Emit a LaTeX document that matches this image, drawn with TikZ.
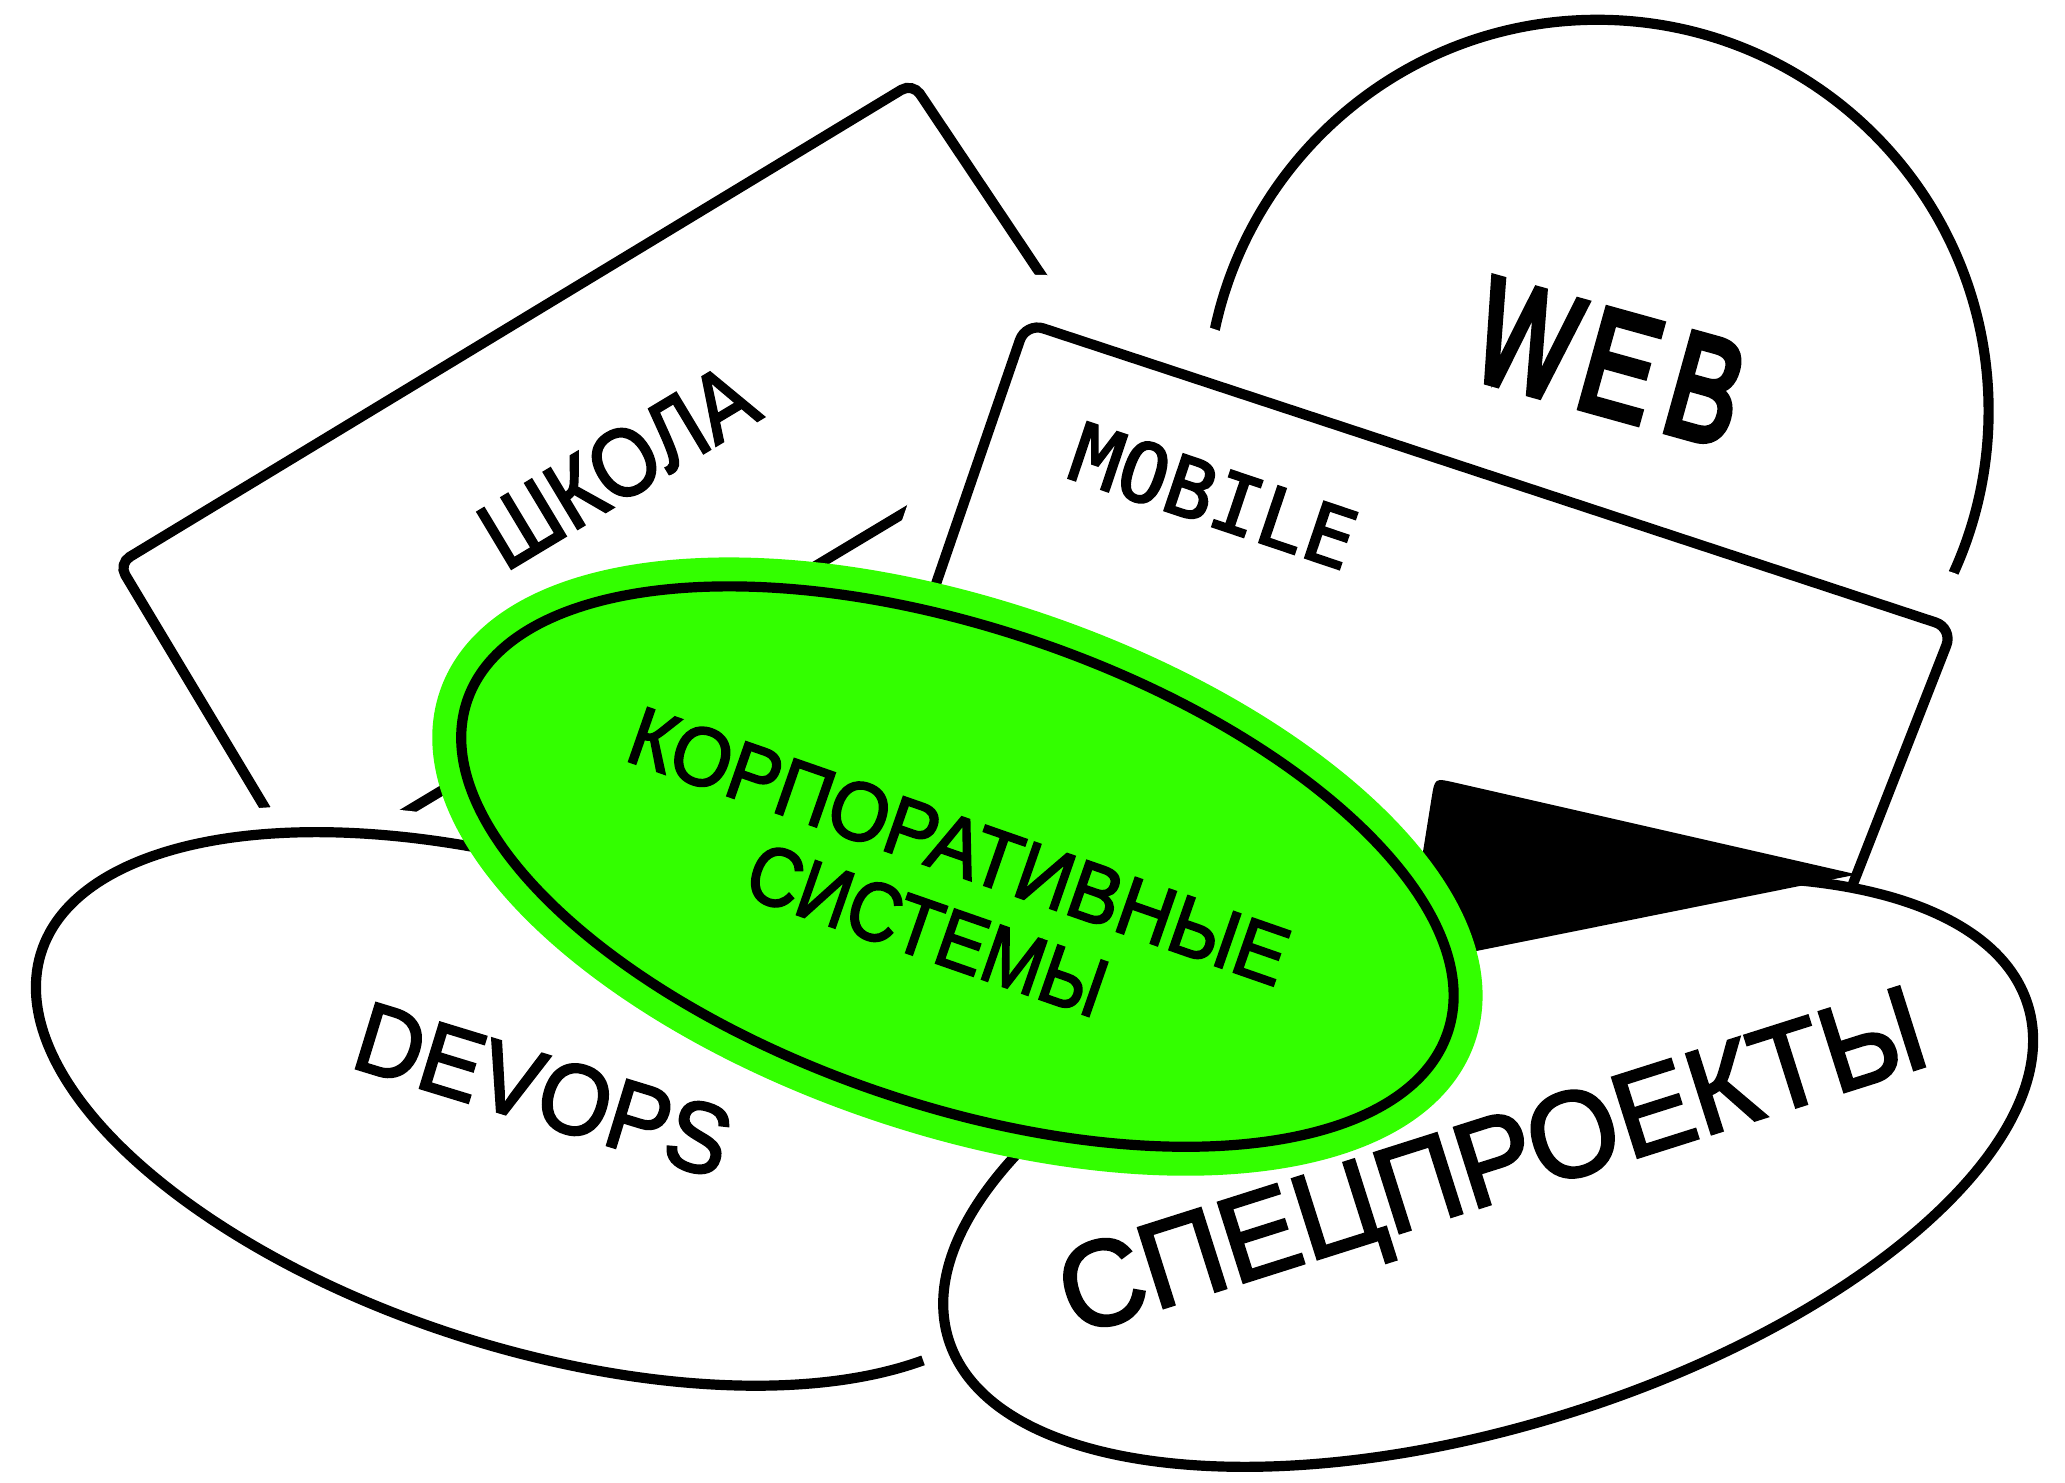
\documentclass[tikz,border=0pt]{standalone}
\usepackage{fontspec}
\usepackage{graphicx}
\setmainfont{Liberation Sans}
\newfontfamily\lblfont{Liberation Sans}[FakeBold=2.5]
\newfontfamily\webfont{Liberation Sans}[FakeBold=5]
\newfontfamily\monofont{DejaVu Sans Mono}[FakeBold=2.5]
\definecolor{corpgreen}{RGB}{51,255,0}
\begin{document}
\begin{tikzpicture}[x=0.01cm, y=0.01cm,
  edge/.style={draw=black, line width=2.2pt},
  lbl/.style={inner sep=0pt, anchor=base, font=\lblfont}]
\useasboundingbox (0,0) rectangle (1568,-1126);

% ШКОЛА card
\draw[edge, fill=white, rounded corners=0.1cm] (693,-63) -- (90,-428) -- (231,-663) -- (847,-293) -- cycle;

% WEB circle
\draw[edge, fill=white] (1213,-312) circle [radius=297];

% MOBILE card with white halo
\path[draw=white, line width=22.8pt, fill=white, rounded corners=0.14cm] (779,-245) -- (1483,-477) -- (1384,-730) -- (674,-550) -- cycle;
\draw[edge, rounded corners=0.14cm] (779,-245) -- (1483,-477) -- (1384,-730) -- (674,-550) -- cycle;

% DEVOPS ellipse
\begin{scope}[shift={(407,-842)}, rotate=-17.5]
\path[draw=white, line width=11.4pt, fill=white] (0,0) ellipse [x radius=394, y radius=182];
\draw[edge] (-31:394 and 182) arc [start angle=-31, end angle=-280, x radius=394, y radius=182];
\end{scope}

% СПЕЦПРОЕКТЫ ellipse
\begin{scope}[shift={(1130,-890)}, rotate=17.2]
\draw[edge, fill=white] (0,0) ellipse [x radius=429, y radius=193];
\end{scope}

% black wedge
\fill[black] (1072,-700) -- (1087.1,-605.6) .. controls (1089.5,-590.8) .. (1104.1,-594.1) -- (1410,-664) -- (1040,-738.4) -- cycle;

% green ellipse
\begin{scope}[shift={(727,-658)}, rotate=-18.7]
\draw[draw=corpgreen, line width=12.5pt, fill=corpgreen] (0,0) ellipse [x radius=393, y radius=181];
\draw[edge] (0,0) ellipse [x radius=393, y radius=181];
\end{scope}

% labels
\node[lbl, rotate=31] (shkola) at (482,-375.5) {\fontsize{20.7pt}{20.7pt}\selectfont\scalebox{0.88}[1]{ШКОЛА}};
\node[lbl, rotate=-15.5, font=\webfont] (web) at (1212,-312.6) {\fontsize{32pt}{32pt}\selectfont\scalebox{0.7}[1]{W}\kern2.5pt\scalebox{0.74}[1]{E}\kern3.5pt\scalebox{0.72}[1]{B}};
\node[lbl, rotate=-18.6, font=\monofont] (mobile) at (914.7,-397.9) {\fontsize{17.6pt}{17.6pt}\selectfont MOBILE};
\node[lbl, rotate=-19.2] (korp1) at (721,-663) {\fontsize{17.9pt}{17.9pt}\selectfont\scalebox{0.93}[1]{КОРПОРАТИВНЫЕ}};
\node[lbl, rotate=-19.2] (korp2) at (697,-726.5) {\fontsize{17.9pt}{17.9pt}\selectfont\scalebox{0.88}[1]{СИСТЕМЫ}};
\node[lbl, rotate=-17] (devops) at (405,-852.5) {\fontsize{21.5pt}{21.5pt}\selectfont\scalebox{0.93}[1]{DEVOPS}};
\node[lbl, rotate=17.6] (spec) at (1142,-911) {\fontsize{26.2pt}{26.2pt}\selectfont\scalebox{0.96}[1]{СПЕЦПРОЕКТЫ}};
\end{tikzpicture}
\end{document}
